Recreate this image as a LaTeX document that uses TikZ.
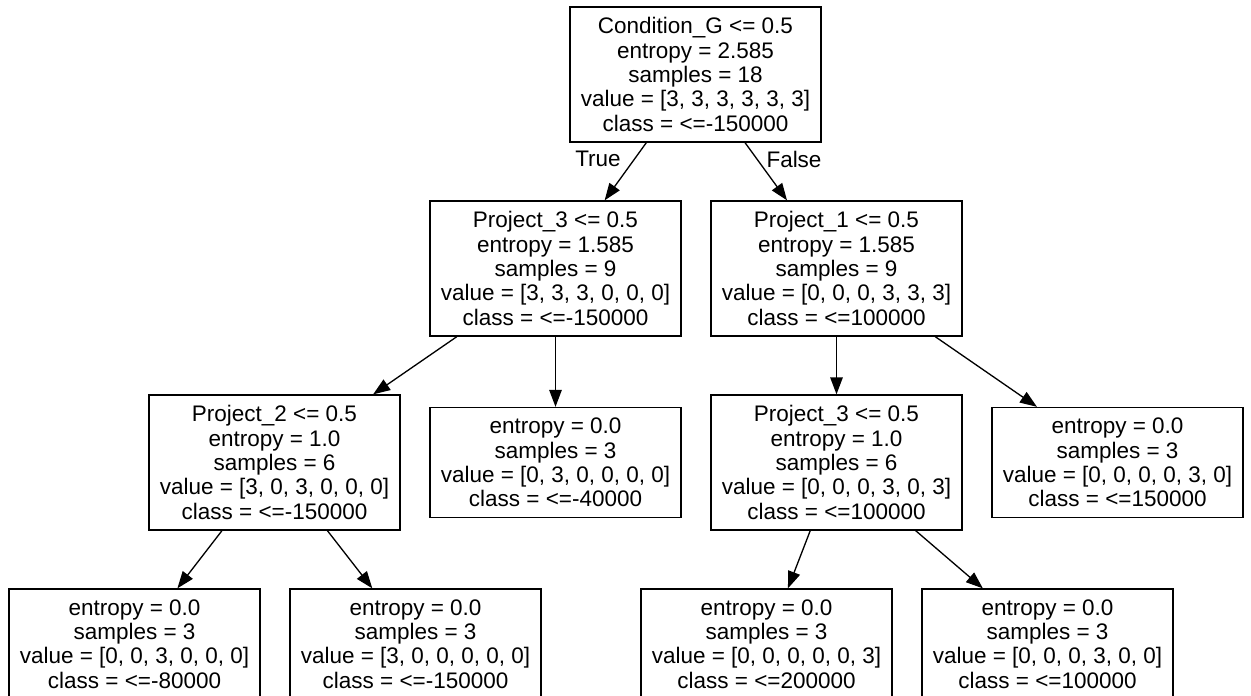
\documentclass[tikz,border=0pt]{standalone}
\usepackage{fontspec}
\setmainfont{Liberation Sans}
\usetikzlibrary{calc, shapes.geometric, arrows.meta, positioning, fit}

\begin{document}
\begin{tikzpicture}[
        x=0.02cm, y=-0.02cm,
        font=\fontsize{12.8}{13.9}\selectfont,
        treenode/.style={draw, rectangle, line width=0.75pt, align=center,
            minimum width=5.02cm, minimum height=2.7cm, inner sep=1pt},
        leafnode/.style={treenode, minimum height=2.2cm},
        treearrow/.style={-{Triangle[length=0.34cm, width=0.25cm]}, line width=0.75pt},
        edgelabel/.style={inner sep=0pt}
    ]
        \useasboundingbox (0,0) rectangle (1251,696);
        \clip (0,0) rectangle (1251,696);

        \node[treenode] (root) at (695.5,74.5) {Condition\_G <= 0.5\\entropy = 2.585\\samples = 18\\value = [3, 3, 3, 3, 3, 3]\\class = <=-150000};

        \node[treenode] (projthree) at (555.5,268.5) {Project\_3 <= 0.5\\entropy = 1.585\\samples = 9\\value = [3, 3, 3, 0, 0, 0]\\class = <=-150000};
        \node[treenode] (projone) at (836.5,268.5) {Project\_1 <= 0.5\\entropy = 1.585\\samples = 9\\value = [0, 0, 0, 3, 3, 3]\\class = <=100000};

        \node[treenode] (projtwo) at (274.5,462.5) {Project\_2 <= 0.5\\entropy = 1.0\\samples = 6\\value = [3, 0, 3, 0, 0, 0]\\class = <=-150000};
        \node[leafnode] (leafforty) at (555.5,462.5) {entropy = 0.0\\samples = 3\\value = [0, 3, 0, 0, 0, 0]\\class = <=-40000};
        \node[treenode] (projthreeb) at (836.5,462.5) {Project\_3 <= 0.5\\entropy = 1.0\\samples = 6\\value = [0, 0, 0, 3, 0, 3]\\class = <=100000};
        \node[leafnode] (leafonefifty) at (1117.5,462.5) {entropy = 0.0\\samples = 3\\value = [0, 0, 0, 0, 3, 0]\\class = <=150000};

        \node[leafnode] (leafeighty) at (134.5,644) {entropy = 0.0\\samples = 3\\value = [0, 0, 3, 0, 0, 0]\\class = <=-80000};
        \node[leafnode] (leafnegonefifty) at (415.5,644) {entropy = 0.0\\samples = 3\\value = [3, 0, 0, 0, 0, 0]\\class = <=-150000};
        \node[leafnode] (leaftwohundred) at (766.5,644) {entropy = 0.0\\samples = 3\\value = [0, 0, 0, 0, 0, 3]\\class = <=200000};
        \node[leafnode] (leafonehundred) at (1047.5,644) {entropy = 0.0\\samples = 3\\value = [0, 0, 0, 3, 0, 0]\\class = <=100000};

        \draw[treearrow] (root) -- (projthree);
        \draw[treearrow] (root) -- (projone);
        \draw[treearrow] (projthree) -- (projtwo);
        \draw[treearrow] (projthree) -- (leafforty);
        \draw[treearrow] (projone) -- (projthreeb);
        \draw[treearrow] (projone) -- (leafonefifty);
        \draw[treearrow] (projtwo) -- (leafeighty);
        \draw[treearrow] (projtwo) -- (leafnegonefifty);
        \draw[treearrow] (projthreeb) -- (leaftwohundred);
        \draw[treearrow] (projthreeb) -- (leafonehundred);

        \node[edgelabel] (truelabel) at (598,159) {True};
        \node[edgelabel] (falselabel) at (794,159) {False};
    \end{tikzpicture}
\end{document}
